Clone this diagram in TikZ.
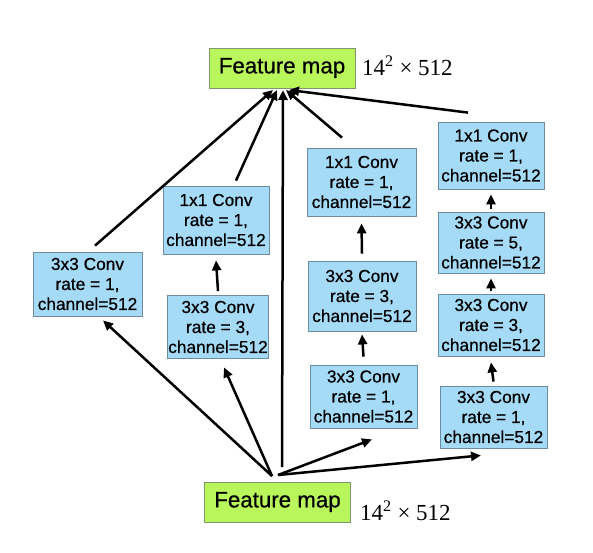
\documentclass[tikz,border=0pt]{standalone}
\usepackage{fontspec}
\setmainfont{Liberation Sans}[BoldFont={Liberation Sans},BoldFeatures={FakeBold=0.6}]
\newfontfamily\dimfont{Liberation Serif}
\usetikzlibrary{arrows.meta}
\definecolor{convblue}{RGB}{166,219,247}
\definecolor{convedge}{RGB}{110,140,160}
\definecolor{fmgreen}{RGB}{185,246,92}
\definecolor{fmedge}{RGB}{130,150,110}
\tikzset{
  conv/.style={draw=convedge, fill=convblue, line width=0.8pt, align=center, inner sep=1pt,
    font=\bfseries\fontsize{17.3}{20}\selectfont, minimum width=#1},
  conv/.default=106pt,
  fm/.style={draw=fmedge, fill=fmgreen, line width=0.8pt, inner sep=2pt,
    font=\bfseries\fontsize{22.3}{24}\selectfont, minimum width=146pt, minimum height=40pt},
  dim/.style={font=\dimfont\fontsize{23}{25}\selectfont, anchor=west, inner sep=0pt},
  arr/.style={-{Triangle[length=10pt,width=9pt]}, line width=2.5pt, black},
}
\begin{document}
\begin{tikzpicture}[x=1pt,y=-1pt]
\useasboundingbox (0,0) rectangle (593,552);
% feature maps
\node[fm] (top) at (282,68) {Feature map};
\node[dim] (topdim) at (362,66) {14\textsuperscript{2} × 512};
\node[fm] (bot) at (277.5,502) {Feature map};
\node[dim] (botdim) at (360,511) {14\textsuperscript{2} × 512};
% branch 1
\node[conv=109pt, minimum height=64pt] (L) at (87.5,284) {3x3 Conv\\rate = 1,\\channel=512};
% branch 2
\node[conv=106pt, minimum height=68pt] (b2a) at (216,220) {1x1 Conv\\rate = 1,\\channel=512};
\node[conv=100pt, minimum height=63pt] (b2b) at (218,327) {3x3 Conv\\rate = 3,\\channel=512};
% branch 3
\node[conv=109pt, minimum height=68pt] (b3a) at (361.5,182) {1x1 Conv\\rate = 1,\\channel=512};
\node[conv=108pt, minimum height=70pt] (b3b) at (362,296) {3x3 Conv\\rate = 3,\\channel=512};
\node[conv=107pt, minimum height=63pt] (b3c) at (363.5,396.5) {3x3 Conv\\rate = 1,\\channel=512};
% branch 4
\node[conv=106pt, minimum height=67pt] (b4a) at (491,155.5) {1x1 Conv\\rate = 1,\\channel=512};
\node[conv=106pt, minimum height=61pt] (b4b) at (491,242.5) {3x3 Conv\\rate = 5,\\channel=512};
\node[conv=106pt, minimum height=62pt] (b4c) at (491,325) {3x3 Conv\\rate = 3,\\channel=512};
\node[conv=107pt, minimum height=62pt] (b4d) at (493.5,417) {3x3 Conv\\rate = 1,\\channel=512};
% hub coordinates
\coordinate (t1) at (273,90);
\coordinate (t2) at (277,90);
\coordinate (t3) at (283,90);
\coordinate (t4) at (286,90);
\coordinate (t5) at (289,90);
\coordinate (s1) at (272,476);
\coordinate (s2) at (278,475);
\coordinate (s3) at (282,467);
% chain arrows
\draw[arr] ([yshift=4pt]b2b.north) -- ([yshift=-6pt]b2a.south);
\draw[arr] ([yshift=7pt]b3b.north) -- ([yshift=-7pt]b3a.south);
\draw[arr] ([yshift=8pt]b3c.north) -- ([yshift=-3pt]b3b.south);
\draw[arr] ([yshift=3pt]b4b.north) -- ([yshift=-5pt]b4a.south);
\draw[arr] ([yshift=3pt]b4c.north) -- ([yshift=-5pt]b4b.south);
\draw[arr] ([yshift=4pt]b4d.north) -- ([yshift=-6pt]b4c.south);
% to top feature map
\draw[arr] ([shift={(7.5,-6)}]L.north) -- (t1);
\draw[arr] ([shift={(20,-5)}]b2a.north) -- (t2);
\draw[arr] (s3) -- (t3);
\draw[arr] ([shift={(-19.5,-10)}]b3a.north) -- (t4);
\draw[arr] ([shift={(-23,-9)}]b4a.north) -- (t5);
% from bottom feature map
\draw[arr] (s1) -- ([shift={(15.5,4)}]L.south);
\draw[arr] (s1) -- ([shift={(6,8.5)}]b2b.south);
\draw[arr] (s2) -- ([shift={(8.5,11)}]b3c.south);
\draw[arr] (s2) -- ([shift={(-12.5,7)}]b4d.south);
\end{tikzpicture}
\end{document}
